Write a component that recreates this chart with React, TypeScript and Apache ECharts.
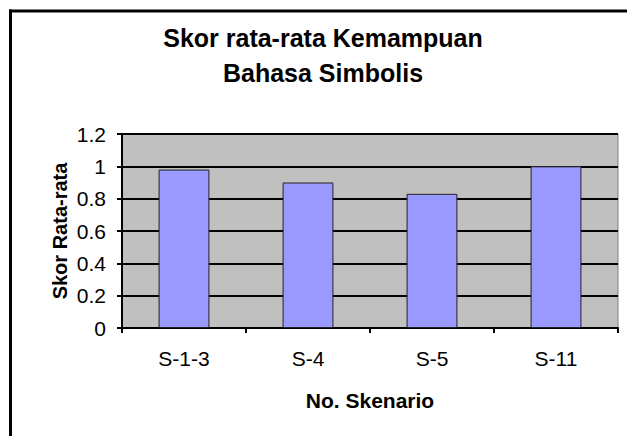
import React, { useEffect, useRef } from "react";
import * as echarts from "echarts";

const categories = ["S-1-3", "S-4", "S-5", "S-11"];
const scores = [0.98, 0.9, 0.83, 1.0];
const titleLines = ["Skor rata-rata Kemampuan", "Bahasa Simbolis"];
const yAxisName = "Skor Rata-rata";
const xAxisName = "No. Skenario";

const FONT = 'Arial, "Liberation Sans", sans-serif';

export default function App() {
  const ref = useRef<HTMLDivElement>(null);
  useEffect(() => {
    if (!ref.current) return;
    const chart = echarts.init(ref.current, null, { renderer: "svg" });
    chart.setOption({
      animation: false,
      backgroundColor: "#ffffff",
      title: {
        text: titleLines.join("\n"),
        left: 318,
        top: 15,
        textAlign: "center",
        textStyle: {
          fontFamily: FONT,
          fontSize: 25,
          fontWeight: "bold",
          color: "#000",
          lineHeight: 35,
        },
      },
      graphic: [
        { type: "line", shape: { x1: 10.5, y1: 9.5, x2: 10.5, y2: 436 }, style: { stroke: "#000", lineWidth: 3 } },
        { type: "line", shape: { x1: 9, y1: 11, x2: 627, y2: 11 }, style: { stroke: "#000", lineWidth: 3 } },
      ],
      grid: {
        left: 122,
        top: 134,
        width: 496,
        height: 194,
        show: true,
        backgroundColor: "#C0C0C0",
        borderColor: "#808080",
        borderWidth: 1,
      },
      xAxis: {
        type: "category",
        data: categories,
        name: xAxisName,
        nameLocation: "middle",
        nameGap: 62,
        nameMoveOverlap: false,
        nameTextStyle: { fontFamily: FONT, fontSize: 21, fontWeight: "bold", color: "#000" },
        axisLine: { lineStyle: { color: "#000", width: 2 } },
        axisTick: { show: true, length: 5, lineStyle: { color: "#000", width: 2 } },
        axisLabel: { fontFamily: FONT, fontSize: 21, color: "#000", margin: 20 },
      },
      yAxis: {
        type: "value",
        min: 0,
        max: 1.2,
        interval: 0.2,
        name: yAxisName,
        nameLocation: "middle",
        nameRotate: 90,
        nameGap: 52,
        nameMoveOverlap: false,
        nameTextStyle: { fontFamily: FONT, fontSize: 20, fontWeight: "bold", color: "#000" },
        axisLine: { show: true, lineStyle: { color: "#000", width: 2 } },
        axisTick: { show: true, length: 5, lineStyle: { color: "#000", width: 2 } },
        axisLabel: { fontFamily: FONT, fontSize: 21, color: "#000", margin: 16 },
        splitLine: { show: true, lineStyle: { color: "#000", width: 2 } },
      },
      series: [
        {
          type: "bar",
          data: scores,
          barWidth: "41%",
          itemStyle: { color: "#9999FF", borderColor: "#222", borderWidth: 1 },
        },
      ],
    });
    return () => chart.dispose();
  }, []);
  return (
    <div
      ref={ref}
      style={{ position: "absolute", left: 0, top: 0, width: 627, height: 436 }}
    />
  );
}
